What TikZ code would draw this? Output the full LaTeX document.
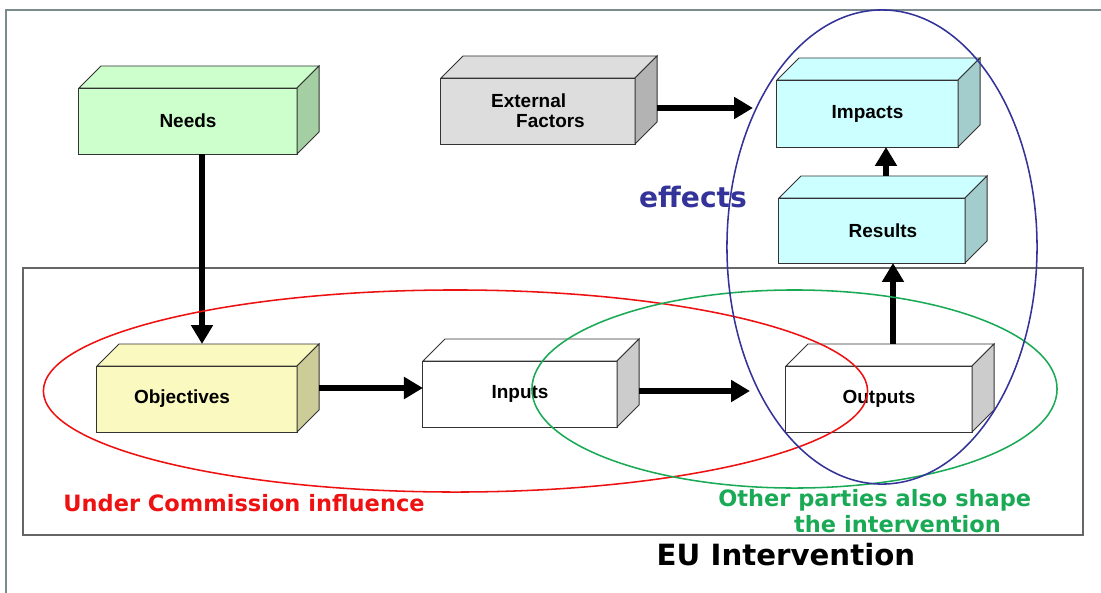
\documentclass[tikz,border=0pt]{standalone}
\usepackage{fontspec}
\setmainfont{Liberation Sans}
\newfontfamily\verd{DejaVu Sans}
\usetikzlibrary{arrows.meta,calc}

\definecolor{boxline}{HTML}{333333}
\definecolor{framegray}{HTML}{7C8C8E}
\definecolor{needsfront}{HTML}{CCFFCC}
\definecolor{needsside}{HTML}{A3CFA3}
\definecolor{extfront}{HTML}{DDDDDD}
\definecolor{extside}{HTML}{B3B3B3}
\definecolor{efffront}{HTML}{CCFFFF}
\definecolor{effside}{HTML}{A3CCCC}
\definecolor{objfront}{HTML}{FAFAC0}
\definecolor{objside}{HTML}{CCCC99}
\definecolor{plainside}{HTML}{CCCCCC}
\definecolor{comred}{HTML}{EE1111}
\definecolor{partygreen}{HTML}{1AAA55}
\definecolor{effblue}{HTML}{333399}

% top and right face of a box drawn on a named front node
\newcommand{\cubefaces}[3]{%
  \filldraw[draw=boxline, line width=0.7pt, fill=#2] (#1.north west) -- ++(22,-22) -- ($(#1.north east)+(22,-22)$) -- (#1.north east) -- cycle;
  \filldraw[draw=boxline, line width=0.7pt, fill=#3] (#1.north east) -- ++(22,-22) -- ($(#1.south east)+(22,-22)$) -- (#1.south east) -- cycle;}

\begin{document}
\begin{tikzpicture}[x=0.025cm, y=-0.025cm,
  cube/.style={draw=boxline, line width=0.7pt, fill=#1, inner sep=0pt, outer sep=0pt,
    font=\fontsize{13.5}{14.2}\selectfont\bfseries},
  flow/.style={line width=4.3pt, -{Triangle[width=15pt,length=13.5pt]}},
  ring/.style={line width=1.1pt}]

\useasboundingbox (0,0) rectangle (1101,593);
\draw[framegray, line width=1.4pt] (6,593) -- (6,10) -- (1101,10);

% EU intervention frame
\draw[draw=black!60, line width=1.5pt] (23,268) rectangle (1083,535);

% boxes
\node[cube=needsfront, minimum width=5.45cm, minimum height=1.65cm] (needs) at (188,121) {Needs};
\cubefaces{needs}{needsfront}{needsside}
\node[cube=extfront, minimum width=4.85cm, minimum height=1.65cm, align=left] (external) at (538,111) {External\\\hspace*{17.8pt}Factors};
\cubefaces{external}{extfront}{extside}
\node[cube=efffront, minimum width=4.525cm, minimum height=1.675cm] (impacts) at (867.5,113.5) {Impacts};
\cubefaces{impacts}{efffront}{effside}
\node[cube=efffront, minimum width=4.65cm, minimum height=1.625cm] (results) at (872,230.5) {\hspace*{15.6pt}Results};
\cubefaces{results}{efffront}{effside}
\node[cube=objfront, minimum width=5cm, minimum height=1.65cm] (objectives) at (197,399) {Objectives\hspace*{21.3pt}};
\cubefaces{objectives}{objfront}{objside}
\node[cube=white, minimum width=4.85cm, minimum height=1.65cm] (inputs) at (520,394) {Inputs};
\cubefaces{inputs}{white}{plainside}
\node[cube=white, minimum width=4.65cm, minimum height=1.65cm] (outputs) at (879,399) {Outputs};
\cubefaces{outputs}{white}{plainside}

% arrows
\coordinate (objtop) at (202,344);
\coordinate (impactsin) at (753,108);
\coordinate (outputsin) at (750,391);
\draw[flow] (needs.south -| objtop) -- (objtop);
\draw[flow] ($(objectives.east)+(22,-11)$) coordinate (o1) -- (o1 -| inputs.west);
\draw[flow] ($(inputs.east)+(22,-3)$) -- (outputsin);
\draw[flow] ($(external.east)+(22,-3)$) -- (impactsin);
\draw[flow] ($(outputs.north)+(14,-22)$) coordinate (o2) -- (o2 |- results.south);
\draw[flow] ($(results.north)+(14,-22)$) coordinate (o3) -- (o3 |- impacts.south);

% groupings
\draw[ring, comred] (455.5,391) ellipse [x radius=10.3cm, y radius=2.525cm];
\draw[ring, partygreen] (794.5,389) ellipse [x radius=6.5625cm, y radius=2.475cm];
\draw[ring, effblue] (882,247) ellipse [x radius=3.875cm, y radius=5.925cm];

% labels
\node[effblue, font=\verd\fontsize{20}{24}\selectfont\bfseries] (effects) at (693,197) {effects};
\node[comred, font=\verd\fontsize{16}{19}\selectfont\bfseries] (commission) at (244,503) {Under Commission influence};
\node[partygreen, font=\verd\fontsize{16}{18.5}\selectfont\bfseries, align=left, anchor=north west, inner sep=0pt] (parties) at (718,489) {Other parties also shape\\\hspace*{54pt}the intervention};
\node[font=\verd\fontsize{20.8}{24}\selectfont\bfseries] (eu) at (786,555) {EU Intervention};

\end{tikzpicture}
\end{document}
